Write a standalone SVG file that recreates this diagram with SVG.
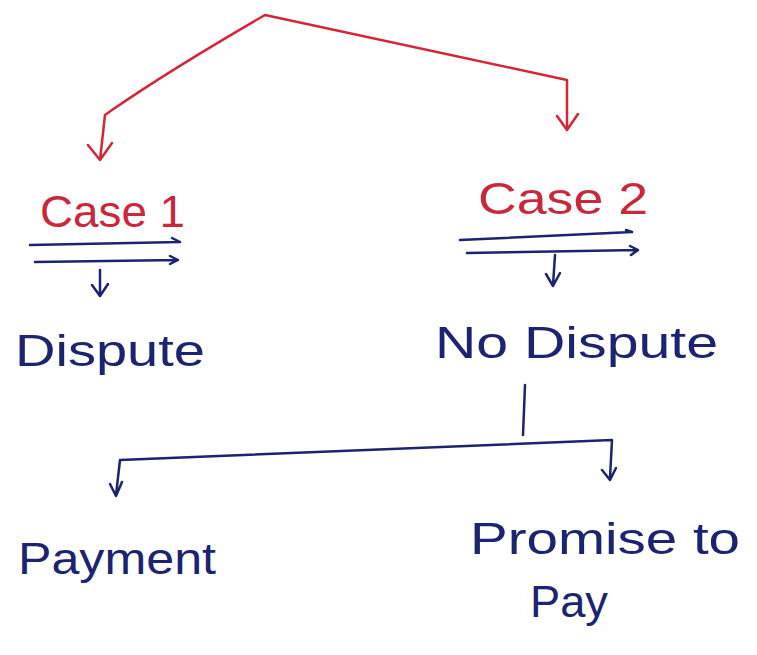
<svg xmlns="http://www.w3.org/2000/svg" width="757" height="655" viewBox="0 0 757 655">
<style>
.red{stroke:#d42636;fill:none;stroke-width:2.5;stroke-linecap:round;stroke-linejoin:round}
.blue{stroke:#1c2370;fill:none;stroke-width:2.5;stroke-linecap:round;stroke-linejoin:round}
.tr{fill:#c8283a;font-family:"Liberation Sans",Arial,sans-serif;font-size:44px}
.tb{fill:#1c2370;font-family:"Liberation Sans",Arial,sans-serif;font-size:44px}
</style>
<rect width="757" height="655" fill="#ffffff"/>
<g id="connectors">
<path class="red" d="M265,15 Q170,70 112,110 L105,115 L100,160 M88,145 L100,160 L112,143"/>
<path class="red" d="M265,15 L567,80 L567,128 M557,116 L567,130 L578,114"/>
<path class="blue" d="M30,245 L180,242 M35,262 L178,260 M170,256 L178,260 L170,264 M172,238 L180,242 M100,270 L100,295 M92,285 L100,296 L108,284"/>
<path class="blue" d="M460,240 L632,232 M467,253 L638,250 M630,246 L638,250 L631,255 M626,230 L632,232 M555,255 L553,285 M546,274 L553,286 L560,273"/>
<path class="blue" d="M525,385 L523,435 M120,460 Q360,450 612,440 L610,478 M602,470 L610,480 L616,468 M120,460 L116,495 M110,484 L116,496 L122,482"/>
</g>
<g id="case1"><text class="tr" x="40" y="227" textLength="145" lengthAdjust="spacingAndGlyphs">Case 1</text></g>
<g id="case2"><text class="tr" x="478" y="214" textLength="170" lengthAdjust="spacingAndGlyphs">Case 2</text></g>
<g id="dispute"><text class="tb" x="15" y="366" textLength="190" lengthAdjust="spacingAndGlyphs">Dispute</text></g>
<g id="nodispute"><text class="tb" x="435" y="358" textLength="283" lengthAdjust="spacingAndGlyphs">No Dispute</text></g>
<g id="payment"><text class="tb" x="18" y="574" textLength="198" lengthAdjust="spacingAndGlyphs">Payment</text></g>
<g id="promise"><text class="tb" x="470" y="554" textLength="270" lengthAdjust="spacingAndGlyphs">Promise to</text><text class="tb" x="530" y="617" textLength="78" lengthAdjust="spacingAndGlyphs">Pay</text></g>
</svg>
